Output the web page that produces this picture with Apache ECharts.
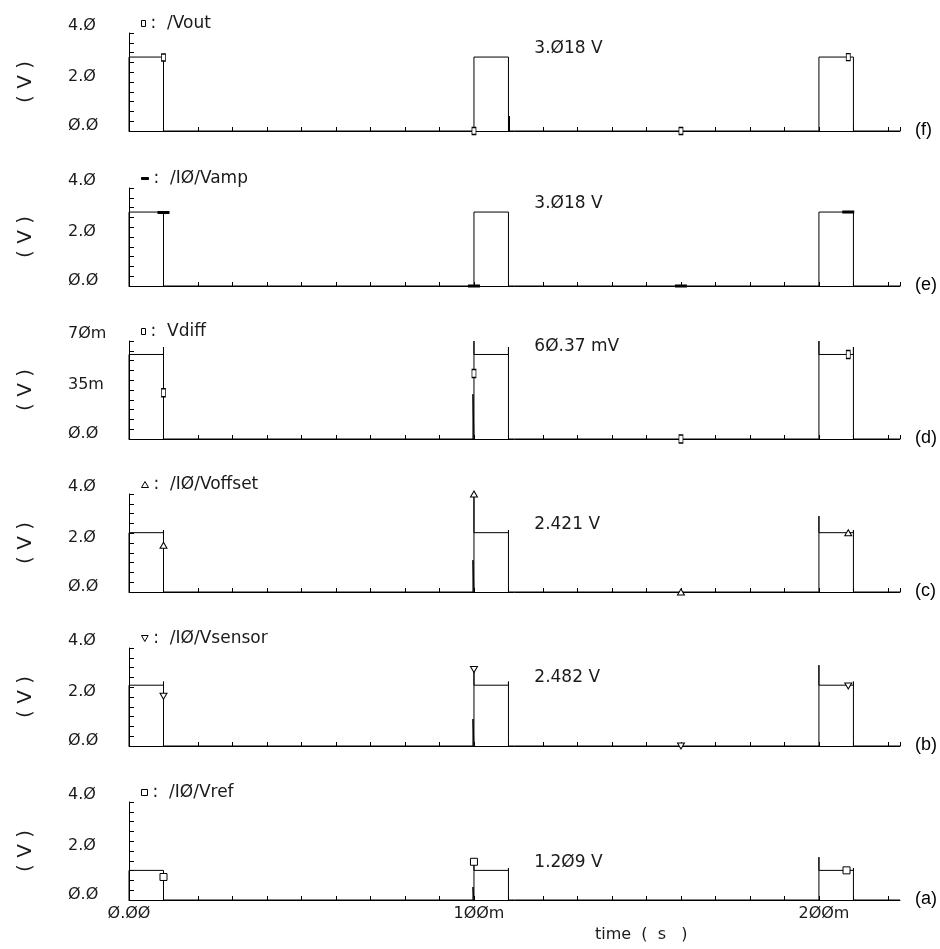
<!DOCTYPE html>
<html>
<head>
<meta charset="utf-8">
<title>waveforms</title>
<script src="https://cdn.jsdelivr.net/npm/echarts@6/dist/echarts.min.js"></script>
<style>
  html, body { margin: 0; padding: 0; background: #fff; }
  #chart { width: 940px; height: 949px; }
</style>
</head>
<body>
<div id="chart"></div>
<script>
// panels from top to bottom
const names = ['/Vout', '/IØ/Vamp', 'Vdiff', '/IØ/Voffset', '/IØ/Vsensor', '/IØ/Vref'];
const tags = ['(f)', '(e)', '(d)', '(c)', '(b)', '(a)'];
const readouts = ['3.Ø18 V', '3.Ø18 V', '6Ø.37 mV', '2.421 V', '2.482 V', '1.2Ø9 V'];
const readoutAt = [[117.5, 3.018], [117.5, 3.018], [117.5, 60.37], [117.5, 2.421], [117.5, 2.482], [117.5, 1.209]];
const yMax = [4, 4, 70, 4, 4, 4];           // Vdiff in mV
const yTicks = [
  ['Ø.Ø', '2.Ø', '4.Ø'],
  ['Ø.Ø', '2.Ø', '4.Ø'],
  ['Ø.Ø', '35m', '7Øm'],
  ['Ø.Ø', '2.Ø', '4.Ø'],
  ['Ø.Ø', '2.Ø', '4.Ø'],
  ['Ø.Ø', '2.Ø', '4.Ø']
];
const xTicks = {0: 'Ø.ØØ', 100: '1ØØm', 200: '2ØØm'};
const timeMax = 223.5;                      // ms

// waveforms, [time ms, value]
const vout = [[0, 0], [0, 3.018], [10, 3.018], [10, 0], [100, 0], [100, 3.018], [110, 3.018], [110, 0],
  [110.3, 0.6], [110.3, 0], [200, 0], [200, 3.018], [210, 3.018], [210, 0], [223.5, 0]];
const vamp = [[0, 0], [0, 3.018], [10, 3.018], [10, 0], [100, 0], [100, 3.018], [110, 3.018], [110, 0],
  [200, 0], [200, 3.018], [210, 3.018], [210, 0], [223.5, 0]];
const vdiff = [[0, 0], [0, 60.37], [10, 60.37], [10, 65.7], [10, 0], [99.7, 0], [99.7, 32], [100, 0],
  [100, 70], [100, 60.37], [110, 60.37], [110, 65.7], [110, 0], [200, 0], [200, 70], [200, 60.37],
  [210, 60.37], [210, 65.7], [210, 0], [223.5, 0]];
const voffset = [[0, 0], [0, 2.421], [10, 2.421], [10, 2.53], [10, 0], [99.7, 0], [99.7, 1.3], [100, 0],
  [100, 4.0], [100, 2.421], [110, 2.421], [110, 2.53], [110, 0], [200, 0], [200, 3.1], [200, 2.421],
  [210, 2.421], [210, 2.53], [210, 0], [223.5, 0]];
const vsensor = [[0, 0], [0, 2.482], [10, 2.482], [10, 2.63], [10, 0], [99.7, 0], [99.7, 1.1], [100, 0],
  [100, 3.12], [100, 2.482], [110, 2.482], [110, 2.63], [110, 0], [200, 0], [200, 3.3], [200, 2.482],
  [210, 2.482], [210, 2.63], [210, 0], [223.5, 0]];
const vref = [[0, 0], [0, 1.209], [10, 1.209], [10, 1.26], [10, 0], [99.7, 0], [99.7, 0.53], [100, 0],
  [100, 1.71], [100, 1.209], [110, 1.209], [110, 1.3], [110, 0], [200, 0], [200, 1.75], [200, 1.209],
  [210, 1.209], [210, 1.3], [210, 0], [223.5, 0]];

// trace markers
const voutMk = [[10, 3.0], [100, 0], [160, 0], [208.5, 3.018]];
const vampMk = [[10, 3.0], [100, 0], [160, 0], [208.5, 3.018]];
const vdiffMk = [[10, 33], [100, 46.8], [160, 0], [208.5, 60.37]];
const voffsetMk = [[10, 1.91], [100, 4.0], [160, 0], [208.5, 2.42]];
const vsensorMk = [[10, 2.03], [100, 3.12], [160, 0], [208.5, 2.45]];
const vrefMk = [[10, 0.94], [100, 1.56], [208, 1.21]];

const waves = [vout, vamp, vdiff, voffset, vsensor, vref];
const marks = [voutMk, vampMk, vdiffMk, voffsetMk, vsensorMk, vrefMk];

// layout
const panelTop = [33, 188, 341, 494, 648, 802];
const panelH = 98;
const plotLeft = 129, plotW = 771;
const ink = '#1a1a1a';
const font = 'DejaVu Sans';

const markStyle = [
  {symbol: 'rect', size: [4, 7], fill: '#fff', icon: 'rect', iw: 4, ih: 6},
  {symbol: 'rect', size: [8, 2], fill: '#000', icon: 'rect', iw: 7, ih: 2},
  {symbol: 'rect', size: [4, 8], fill: '#fff', icon: 'rect', iw: 4, ih: 6},
  {symbol: 'triangle', size: [7, 6], fill: '#fff', icon: 'triangle', iw: 7, ih: 6},
  {symbol: 'path://M0,0L10,0L5,9Z', size: [7, 6], fill: '#fff', icon: 'path://M0,0L10,0L5,9Z', iw: 7, ih: 6},
  {symbol: 'rect', size: [7, 7], fill: '#fff', icon: 'rect', iw: 6, ih: 6}
];

let chart = echarts.init(document.getElementById('chart'), null, {renderer: 'canvas'});

let grids = [], xAxes = [], yAxes = [], series = [], legends = [], graphics = [];

panelTop.forEach(function (top, i) {
  let last = i === panelTop.length - 1;
  grids.push({left: plotLeft, top: top, width: plotW, height: panelH, outerBoundsMode: 'none'});
  xAxes.push({
    type: 'value', gridIndex: i, min: 0, max: timeMax, interval: 10,
    axisLine: {lineStyle: {color: '#000', width: 1}},
    axisTick: {show: true, inside: true, length: 4, lineStyle: {color: '#000'}},
    splitLine: {show: false},
    axisLabel: {
      show: last, margin: 6, color: ink, fontFamily: font, fontSize: 16,
      showMinLabel: true, showMaxLabel: false,
      formatter: function (v) {
        let r = Math.round(v);
        if (Math.abs(v - r) > 1e-6 || xTicks[r] === undefined) return '';
        return r === 0 ? '{z|' + xTicks[r] + '}' : '{m|' + xTicks[r] + '}';
      },
      rich: {
        z: {fontFamily: font, fontSize: 16, color: ink},
        m: {fontFamily: font, fontSize: 16, color: ink, padding: [0, 0, 0, 10]}
      }
    }
  });
  yAxes.push({
    type: 'value', gridIndex: i, min: 0, max: yMax[i], interval: yMax[i] / 2,
    name: '( V )', nameLocation: 'middle', nameGap: 93,
    nameTextStyle: {color: ink, fontFamily: font, fontSize: 20},
    axisLine: {show: true, lineStyle: {color: '#000', width: 1}},
    axisTick: {show: true, inside: true, length: 5, lineStyle: {color: '#000'}},
    minorTick: {show: true, splitNumber: 5, length: 5, lineStyle: {color: '#000'}},
    splitLine: {show: false},
    axisLabel: {
      margin: 61, align: 'left', color: ink, fontFamily: font, fontSize: 16,
      formatter: function (v) {
        let k = Math.round(v / (yMax[i] / 2));
        return k === 2 ? '{top|' + yTicks[i][k] + '}' : '{mid|' + yTicks[i][k] + '}';
      },
      rich: {
        top: {fontFamily: font, fontSize: 16, color: ink, padding: [0, 0, 14, 0]},
        mid: {fontFamily: font, fontSize: 16, color: ink, padding: [0, 0, 10, 0]}
      }
    }
  });
  series.push({
    type: 'line', name: names[i], xAxisIndex: i, yAxisIndex: i, data: waves[i],
    showSymbol: false, symbol: 'none', lineStyle: {color: '#000', width: 1},
    silent: true, animation: false,
    markPoint: {
      silent: true, symbol: 'circle', symbolSize: 0,
      data: [{coord: readoutAt[i], value: readouts[i]}],
      label: {
        show: true, position: [0, 0], align: 'left', verticalAlign: 'middle', offset: [0, -8],
        formatter: readouts[i], color: ink, fontFamily: font, fontSize: 17
      }
    }
  });
  let ms = markStyle[i];
  series.push({
    type: 'scatter', name: names[i], xAxisIndex: i, yAxisIndex: i, data: marks[i],
    symbol: ms.symbol, symbolSize: ms.size,
    itemStyle: {color: ms.fill, borderColor: '#000', borderWidth: 1, opacity: 1},
    silent: true, animation: false, z: 3
  });
  legends.push({
    data: [names[i]], left: 136, top: top - 23, icon: ms.icon,
    itemWidth: ms.iw, itemHeight: ms.ih, selectedMode: false,
    itemStyle: {color: ms.fill, borderColor: '#000', borderWidth: 1},
    formatter: ':  {name}',
    textStyle: {color: ink, fontFamily: font, fontSize: 17}
  });
  graphics.push({
    type: 'text', left: 915, top: top + panelH - 10,
    style: {text: tags[i], fill: '#000', font: '18px "Liberation Sans"'}
  });
});

graphics.push({
  type: 'text', left: 595, top: 927,
  style: {text: 'time  (  s   )', fill: ink, font: '16px "DejaVu Sans"'}
});

chart.setOption({
  backgroundColor: '#fff',
  animation: false,
  grid: grids,
  xAxis: xAxes,
  yAxis: yAxes,
  legend: legends,
  series: series,
  graphic: graphics
});
</script>
</body>
</html>
